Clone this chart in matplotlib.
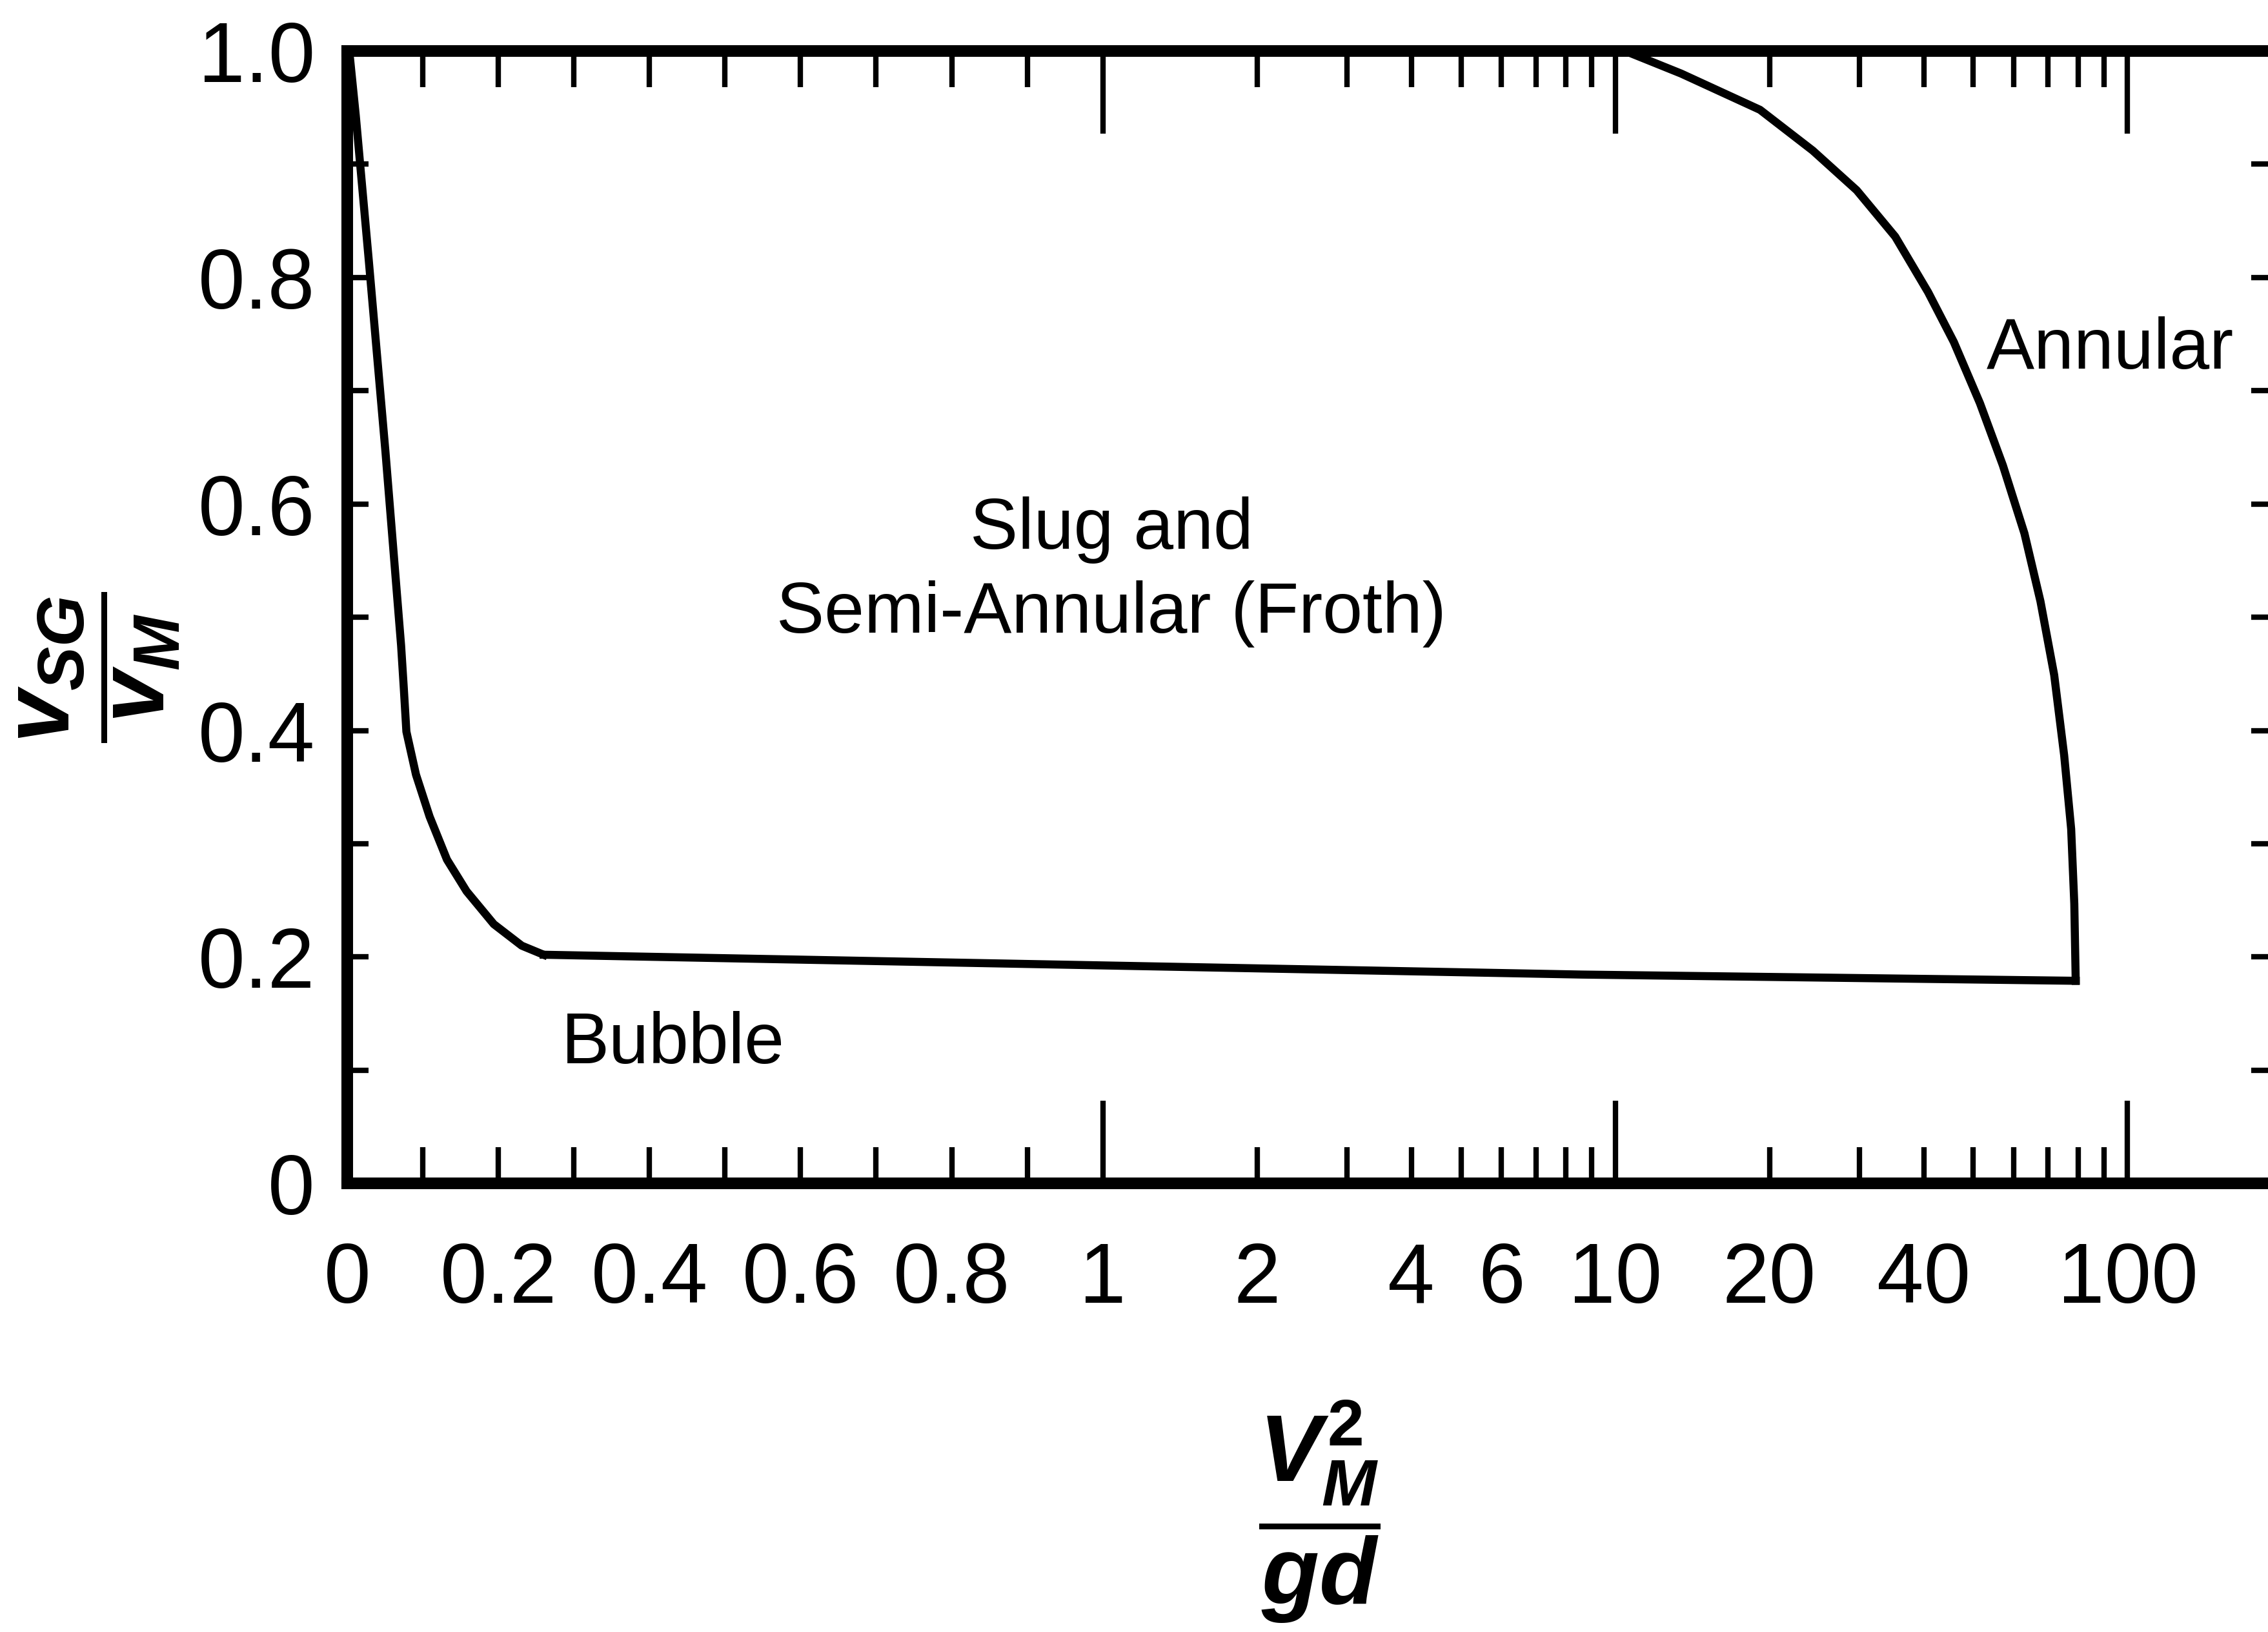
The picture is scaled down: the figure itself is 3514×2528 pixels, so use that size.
import numpy as np
import matplotlib
matplotlib.use("Agg")
from matplotlib import pyplot as plt

plt.rcParams['font.family'] = ['Liberation Sans', 'DejaVu Sans']
plt.rcParams['mathtext.fontset'] = 'custom'
plt.rcParams['mathtext.it'] = 'Liberation Sans:italic:bold'
plt.rcParams['mathtext.rm'] = 'Liberation Sans:bold'
plt.rcParams['mathtext.bf'] = 'Liberation Sans:bold'

# boundary between regimes: left branch, bottom line, right branch
left_x = [0.0, 0.0036, 0.0113, 0.0284, 0.0506, 0.0713, 0.0749, 0.0783, 0.091,
          0.109, 0.132, 0.158, 0.194, 0.231, 0.26]
left_y = [1.0, 0.994, 0.943, 0.816, 0.646, 0.475, 0.437, 0.399, 0.361,
          0.324, 0.286, 0.258, 0.229, 0.210, 0.202]
bottom_x = [0.26, 8.6, 79.2]
bottom_y = [0.202, 0.1845, 0.179]
right_x = [79.2, 78.7, 77.6, 75.2, 71.9, 67.6, 62.9, 57.1, 51.5, 45.8, 40.8,
           35.2, 29.6, 24.3, 19.17, 13.45, 10.45]
right_y = [0.179, 0.247, 0.313, 0.378, 0.449, 0.514, 0.574, 0.634, 0.689, 0.743, 0.787,
           0.836, 0.877, 0.912, 0.948, 0.980, 1.0]

x_major = [1, 10, 100]
x_major_labels = ['1', '10', '100']
x_minor = [0, 0.1, 0.2, 0.3, 0.4, 0.5, 0.6, 0.7, 0.8, 0.9,
           2, 3, 4, 5, 6, 7, 8, 9, 20, 30, 40, 50, 60, 70, 80, 90]
x_minor_labels = ['0', '', '0.2', '', '0.4', '', '0.6', '', '0.8', '',
                  '2', '', '4', '', '6', '', '', '', '20', '', '40', '', '', '', '', '']
y_major = [0, 0.2, 0.4, 0.6, 0.8, 1.0]
y_major_labels = ['0', '0.2', '0.4', '0.6', '0.8', '1.0']
y_minor = [0.1, 0.3, 0.5, 0.7, 0.9]

# linear from 0 to 1, then logarithmic
K = 354.0 / 522.0
def fwd(x):
    x = np.asarray(x, dtype=float)
    return np.where(x <= 1, x, 1 + K * np.log10(np.maximum(x, 1)))
def inv(u):
    u = np.asarray(u, dtype=float)
    return np.where(u <= 1, u, 10 ** ((np.maximum(u, 1) - 1) / K))

fig = plt.figure(figsize=(35.14, 25.28), dpi=100)
ax = fig.add_axes([0.1531, 0.2748, 0.849, 0.694])
ax.set_xscale('function', functions=(fwd, inv))
ax.set_xlim(0, 192)
ax.set_ylim(0, 1.0)

ax.plot(left_x, left_y, color='black', lw=9, solid_joinstyle='round')
ax.plot(bottom_x, bottom_y, color='black', lw=9, solid_capstyle='projecting')
ax.plot(right_x, right_y, color='black', lw=9, solid_joinstyle='round')

for s in ax.spines.values():
    s.set_linewidth(13)

ax.set_xticks(x_major, x_major_labels)
ax.set_xticks(x_minor, x_minor_labels, minor=True)
ax.set_yticks(y_major, y_major_labels)
ax.set_yticks(y_minor, minor=True)

ax.tick_params(axis='x', which='minor', direction='in', length=40, width=6,
               top=True, bottom=True, labelsize=94, pad=64)
ax.tick_params(axis='x', which='major', direction='in', length=92, width=6,
               top=True, bottom=True, labelsize=94, pad=64)
ax.tick_params(axis='y', which='both', direction='in', length=24, width=6,
               left=True, right=True, labelsize=94, pad=36)

ax.text(92.5, 0.736, 'Annular', ha='center', va='center', fontsize=80)
ax.text(1.04, 0.54, 'Slug and\nSemi-Annular (Froth)', ha='center', va='center',
        fontsize=80, linespacing=1.32)
ax.text(0.431, 0.123, 'Bubble', ha='center', va='center', fontsize=80)

ax.set_ylabel(r'$\dfrac{v_{SG}}{v_M}$', fontsize=105, rotation=90, va='center')
ax.yaxis.set_label_coords(-0.1286, 0.456)
ax.set_xlabel(r'$\dfrac{V_M^2}{gd}$', fontsize=105, va='center')
ax.xaxis.set_label_coords(0.505, -0.29)

fig.savefig('out.png', dpi=100, facecolor='white')
